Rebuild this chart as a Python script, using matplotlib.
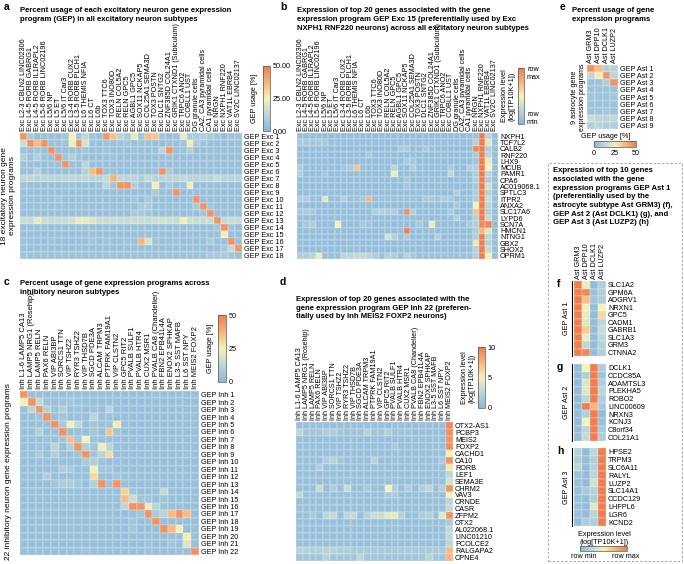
import numpy as np
import matplotlib
matplotlib.use("Agg")
import matplotlib.pyplot as plt
from matplotlib.colors import LinearSegmentedColormap, Normalize
from matplotlib.cm import ScalarMappable
from matplotlib.patches import Rectangle
from matplotlib.lines import Line2D

plt.rcParams['font.family'] = ['Liberation Sans', 'DejaVu Sans']

# ---------------- data ----------------
exc_types = ["Exc L2-3 CBLN2 LINC02306", "Exc L4-5 RORB GABRG1", "Exc L4-5 RORB IL1RAPL2",
             "Exc L5-6 RORB LINC02196", "Exc L5/6 NP", "Exc L5 ET", "Exc L5/6 IT Car3",
             "Exc L3-4 RORB CUX2", "Exc L3-5 RORB PLCH1", "Exc L6 THEMIS NFIA", "Exc L6 CT",
             "Exc L6b", "Exc TOX3 TTC6", "Exc TOX3 INO80D", "Exc RELN COL5A2", "Exc RELN GPC5",
             "Exc AGBL1 GPC5", "Exc SOX11 NCKAP5", "Exc COL25A1 SEMA3D", "Exc TOX3 POSTN",
             "Exc DLC1 SNTG2", "Exc ZNF385D COL24A1", "Exc GRIK1 CTXND1 (Subiculum)",
             "Exc TRPC6 ANO2", "Exc COBLL1 UST", "DG granule cells", "CA2, CA3 pyramidal cells",
             "CA1 pyramidal cells", "Exc NRGN", "Exc NXPH1 RNF220", "Exc VAT1L EBRB4",
             "Exc SV2C LINC02137"]
exc_geps = ["GEP Exc %d" % i for i in range(1, 19)]

# percent usage, GEP Exc x subtype
exc_usage = [
    [45, 8, 4, 5, 4, 4, 6, 25, 6, 14, 5, 4, 44, 35, 12, 8, 22, 6, 36, 34, 6, 4, 5, 22, 8, 8, 10, 8, 6, 4, 5, 5],
    [16, 45, 36, 45, 5, 4, 5, 26, 45, 18, 5, 4, 5, 4, 5, 6, 4, 5, 5, 4, 4, 5, 4, 6, 26, 8, 5, 4, 4, 4, 4, 4],
    [5, 4, 6, 4, 45, 4, 4, 5, 4, 6, 4, 4, 5, 4, 4, 4, 5, 4, 4, 5, 12, 45, 4, 5, 10, 4, 4, 4, 4, 4, 4, 4],
    [10, 5, 10, 5, 4, 45, 6, 10, 5, 4, 4, 4, 4, 5, 4, 4, 4, 4, 4, 4, 4, 5, 4, 4, 4, 4, 4, 4, 4, 4, 4, 4],
    [5, 4, 4, 4, 5, 4, 45, 5, 4, 12, 4, 4, 4, 4, 4, 4, 4, 4, 4, 4, 4, 4, 4, 4, 4, 4, 4, 4, 4, 4, 4, 4],
    [4, 5, 10, 4, 4, 4, 4, 5, 4, 10, 36, 45, 4, 4, 4, 4, 4, 4, 4, 4, 45, 8, 4, 4, 4, 4, 4, 4, 4, 4, 4, 4],
    [13, 14, 12, 13, 12, 12, 13, 14, 12, 13, 12, 12, 14, 38, 13, 12, 12, 10, 14, 12, 12, 12, 12, 14, 12, 12, 12, 12, 15, 12, 12, 12],
    [5, 4, 4, 4, 4, 4, 4, 5, 4, 4, 4, 5, 12, 6, 45, 45, 10, 5, 5, 26, 4, 8, 4, 5, 26, 4, 4, 4, 4, 4, 4, 4],
    [4, 4, 4, 4, 4, 4, 4, 4, 4, 4, 4, 4, 4, 4, 4, 4, 4, 4, 4, 8, 4, 4, 45, 4, 4, 4, 4, 4, 4, 4, 4, 4],
    [4, 4, 4, 4, 4, 6, 4, 4, 4, 4, 4, 4, 4, 4, 4, 4, 6, 4, 8, 4, 4, 4, 4, 4, 4, 45, 4, 4, 4, 4, 4, 4],
    [4, 4, 4, 4, 4, 4, 4, 4, 4, 4, 4, 4, 4, 4, 4, 4, 4, 8, 8, 4, 4, 4, 4, 4, 4, 8, 45, 6, 4, 4, 4, 4],
    [4, 4, 4, 4, 4, 4, 4, 4, 4, 4, 4, 4, 4, 4, 4, 4, 8, 8, 6, 4, 4, 4, 4, 4, 4, 4, 6, 45, 4, 4, 4, 4],
    [16, 15, 22, 16, 15, 15, 15, 18, 22, 22, 20, 16, 15, 16, 15, 15, 16, 16, 15, 16, 17, 16, 15, 26, 16, 15, 16, 15, 45, 15, 16, 15],
    [4, 4, 4, 5, 4, 4, 4, 4, 4, 4, 4, 4, 4, 4, 4, 4, 4, 4, 4, 4, 4, 4, 4, 4, 4, 4, 4, 4, 6, 45, 6, 4],
    [4, 4, 4, 4, 4, 4, 4, 4, 4, 4, 4, 4, 4, 4, 4, 4, 4, 4, 4, 4, 4, 4, 4, 4, 4, 4, 4, 4, 4, 26, 4, 4],
    [5, 4, 4, 4, 5, 4, 4, 4, 4, 4, 6, 4, 5, 4, 4, 5, 4, 38, 18, 5, 4, 4, 5, 4, 4, 4, 4, 8, 4, 4, 45, 4],
    [4, 4, 4, 4, 4, 4, 4, 4, 4, 4, 4, 4, 4, 4, 4, 4, 4, 4, 4, 4, 4, 4, 4, 4, 4, 4, 4, 4, 4, 6, 14, 45],
    [6, 5, 5, 5, 5, 5, 5, 5, 5, 5, 5, 5, 5, 5, 5, 5, 5, 5, 5, 5, 5, 5, 5, 5, 5, 5, 5, 8, 8, 8, 6, 5],
]

exc15_genes = ["NXPH1", "TCF7L2", "CALB2", "RNF220", "LHX9", "MCUB", "PAMR1", "CPA6", "AC019068.1",
               "SPTLC3", "ITPR2", "ANXA2", "SLC17A6", "LYPD6", "SCN7A", "HMCN1", "NTNG1", "GBX2",
               "SHOX2", "OPRM1"]
# expression, % of row max
exc15_expr = [
    [6, 6, 6, 6, 6, 6, 6, 6, 6, 6, 6, 6, 6, 6, 6, 6, 6, 6, 6, 6, 6, 6, 6, 6, 6, 6, 6, 6, 10, 100, 25, 8],
    [15, 15, 14, 15, 14, 8, 8, 8, 8, 8, 8, 8, 8, 8, 8, 8, 8, 8, 8, 8, 8, 8, 8, 8, 8, 8, 8, 8, 20, 100, 40, 8],
    [6, 6, 6, 6, 6, 6, 6, 6, 6, 6, 6, 6, 6, 6, 6, 6, 15, 15, 6, 8, 15, 8, 6, 6, 6, 6, 6, 6, 95, 100, 20, 6],
    [6, 6, 6, 6, 6, 6, 6, 6, 6, 6, 6, 15, 6, 6, 6, 6, 6, 6, 6, 6, 6, 6, 6, 6, 6, 6, 6, 6, 15, 100, 25, 6],
    [6, 6, 6, 6, 6, 6, 6, 6, 6, 6, 6, 6, 6, 6, 6, 6, 6, 15, 12, 6, 6, 6, 6, 6, 6, 6, 6, 6, 12, 100, 45, 6],
    [18, 6, 6, 6, 6, 6, 6, 12, 15, 70, 6, 6, 6, 6, 6, 25, 6, 6, 18, 6, 6, 6, 6, 6, 15, 6, 6, 18, 20, 100, 50, 6],
    [20, 6, 6, 6, 12, 6, 6, 6, 6, 6, 6, 6, 6, 6, 6, 45, 6, 6, 6, 6, 6, 6, 6, 6, 25, 6, 6, 6, 18, 100, 25, 6],
    [6, 6, 6, 6, 6, 6, 6, 6, 6, 6, 6, 6, 6, 6, 6, 6, 6, 15, 6, 6, 6, 6, 6, 6, 6, 6, 6, 6, 20, 100, 20, 6],
    [6, 6, 6, 6, 6, 6, 6, 6, 6, 6, 6, 6, 6, 6, 6, 6, 6, 12, 6, 6, 6, 6, 6, 6, 6, 6, 6, 6, 15, 100, 35, 6],
    [6, 6, 6, 6, 6, 6, 6, 6, 6, 6, 6, 6, 6, 6, 6, 6, 6, 6, 6, 6, 6, 6, 6, 6, 6, 18, 6, 6, 18, 100, 22, 6],
    [18, 18, 8, 8, 40, 8, 8, 18, 8, 8, 15, 75, 8, 8, 8, 8, 8, 8, 8, 8, 15, 15, 12, 18, 15, 8, 8, 8, 20, 100, 30, 6],
    [6, 6, 6, 6, 6, 6, 6, 6, 6, 6, 6, 6, 6, 6, 6, 6, 6, 6, 6, 6, 6, 6, 6, 6, 6, 15, 6, 6, 50, 100, 25, 6],
    [15, 15, 15, 6, 6, 6, 6, 6, 6, 6, 6, 6, 18, 20, 18, 18, 6, 90, 20, 6, 6, 6, 6, 6, 15, 6, 6, 6, 70, 100, 20, 6],
    [6, 6, 6, 6, 6, 6, 6, 6, 6, 6, 6, 6, 6, 6, 6, 6, 6, 6, 6, 6, 6, 6, 6, 6, 6, 20, 6, 6, 20, 100, 30, 6],
    [6, 15, 18, 6, 6, 6, 50, 6, 6, 6, 15, 10, 6, 6, 6, 6, 6, 6, 6, 15, 6, 45, 6, 6, 6, 6, 6, 15, 20, 95, 95, 6],
    [6, 6, 6, 6, 6, 6, 6, 6, 6, 6, 6, 6, 6, 6, 6, 6, 6, 100, 6, 6, 6, 6, 6, 6, 6, 6, 6, 6, 20, 75, 40, 6],
    [6, 6, 6, 6, 6, 6, 6, 6, 6, 6, 6, 6, 6, 6, 35, 20, 6, 15, 6, 6, 6, 6, 20, 6, 6, 6, 6, 6, 20, 100, 25, 6],
    [6, 6, 6, 6, 6, 6, 6, 6, 6, 6, 6, 6, 6, 6, 6, 6, 6, 6, 6, 6, 6, 6, 6, 6, 6, 6, 6, 6, 55, 100, 22, 6],
    [6, 6, 6, 6, 6, 6, 6, 6, 6, 6, 6, 6, 6, 6, 6, 6, 6, 6, 6, 6, 6, 6, 6, 6, 6, 6, 6, 6, 22, 100, 30, 6],
    [18, 18, 22, 45, 8, 8, 8, 25, 25, 28, 28, 25, 18, 8, 22, 18, 8, 22, 15, 8, 8, 8, 8, 8, 8, 8, 8, 8, 20, 100, 50, 8],
]

inh_types = ["Inh L1-6 LAMP5 CA13", "Inh LAMP5 NRG1 (Rosehip)", "Inh LAMP5 RELN", "Inh PAX6 RELN",
             "Inh VIP ABI3BP", "Inh SORCS1 TTN", "Inh VIP TSHZ2", "Inh RYR3 TSHZ2",
             "Inh VIP THSD7B", "Inh SGCD PDE3A", "Inh ALCAM TRPM3", "Inh PTPRK FAM19A1",
             "Inh VIP CLSTN2", "Inh GPC5 RIT2", "Inh PVALB SULF1", "Inh PVALB HTR4",
             "Inh CUX2 MSR1", "Inh PVALB CA8 (Chandelier)", "Inh FBN2 EPB41L4A",
             "Inh ENOX2 SPHKAP", "Inh L3-5 SST MAFB", "Inh L6 SST NPY", "Inh MEIS2 FOXP2"]
inh_geps = ["GEP Inh %d" % i for i in range(1, 23)]
inh_usage = [
    [45, 4, 4, 4, 4, 4, 4, 4, 4, 4, 4, 4, 4, 4, 4, 4, 4, 5, 4, 4, 4, 4, 4],
    [24, 45, 14, 5, 4, 5, 6, 5, 4, 4, 4, 4, 4, 4, 4, 4, 4, 4, 4, 4, 4, 4, 4],
    [4, 12, 45, 10, 5, 10, 4, 5, 4, 5, 4, 12, 4, 4, 4, 4, 4, 4, 4, 4, 4, 4, 4],
    [4, 4, 5, 45, 4, 6, 4, 4, 4, 12, 4, 4, 4, 4, 4, 4, 4, 4, 4, 4, 4, 4, 4],
    [4, 4, 4, 4, 45, 8, 24, 14, 4, 6, 4, 5, 26, 4, 4, 4, 4, 4, 4, 4, 4, 4, 4],
    [4, 4, 10, 4, 5, 45, 4, 4, 4, 6, 4, 34, 6, 4, 4, 4, 4, 4, 4, 4, 4, 4, 4],
    [4, 4, 4, 5, 4, 6, 36, 6, 24, 5, 4, 4, 4, 4, 4, 4, 4, 4, 4, 4, 4, 4, 4],
    [4, 4, 5, 4, 12, 4, 10, 45, 10, 6, 26, 12, 4, 4, 4, 4, 4, 4, 4, 4, 4, 4, 4],
    [4, 4, 8, 4, 10, 4, 4, 5, 45, 6, 12, 30, 4, 4, 4, 4, 4, 4, 4, 4, 4, 5, 4],
    [4, 4, 4, 4, 4, 4, 4, 4, 8, 10, 5, 4, 4, 4, 4, 4, 4, 4, 4, 4, 4, 4, 4],
    [4, 4, 4, 4, 4, 9, 8, 4, 4, 24, 6, 6, 4, 4, 4, 4, 4, 4, 4, 4, 4, 4, 4],
    [4, 4, 4, 10, 4, 4, 4, 4, 4, 30, 4, 4, 6, 4, 4, 4, 4, 4, 4, 4, 4, 4, 4],
    [4, 4, 4, 4, 6, 9, 9, 6, 4, 10, 45, 5, 45, 4, 4, 4, 4, 4, 4, 4, 4, 4, 4],
    [4, 4, 4, 4, 4, 4, 4, 4, 4, 4, 4, 4, 4, 32, 6, 4, 4, 4, 14, 4, 4, 4, 4],
    [4, 4, 4, 4, 4, 4, 4, 4, 4, 4, 4, 4, 4, 36, 15, 6, 6, 4, 6, 4, 4, 4, 4],
    [4, 4, 4, 4, 4, 4, 4, 4, 4, 4, 4, 4, 4, 12, 45, 45, 22, 12, 5, 4, 4, 4, 4],
    [4, 4, 4, 4, 4, 4, 4, 4, 4, 4, 4, 4, 4, 4, 4, 6, 45, 8, 12, 36, 45, 36, 4],
    [4, 4, 4, 4, 4, 4, 4, 4, 4, 4, 4, 4, 4, 4, 6, 4, 5, 45, 4, 4, 4, 4, 4],
    [4, 4, 4, 4, 4, 4, 4, 4, 4, 4, 4, 4, 4, 4, 6, 4, 4, 4, 45, 36, 24, 4, 4],
    [4, 4, 4, 4, 4, 4, 4, 4, 4, 4, 4, 4, 4, 4, 4, 4, 4, 4, 4, 4, 4, 26, 4],
    [4, 4, 4, 4, 4, 4, 4, 4, 4, 4, 4, 4, 4, 4, 4, 4, 5, 4, 4, 6, 4, 20, 4],
    [4, 4, 4, 4, 4, 4, 4, 4, 5, 4, 4, 4, 4, 4, 4, 4, 4, 4, 4, 4, 4, 4, 45],
]

inh22_genes = ["OTX2-AS1", "PCBP3", "MEIS2", "FOXP2", "CACHD1", "CA10", "RORB", "LEF1", "SEMA3E",
               "CHRM2", "VAV3", "CRNDE", "CASR", "ZFPM2", "OTX2", "AL022068.1", "LINC01210",
               "PCOLCE2", "RALGAPA2", "CPNE4"]
# log(TP10K+1)
inh22_expr = [
    [.8, .8, .8, .8, .8, .8, .8, .8, .8, .8, .8, .8, .8, .8, .8, .8, .8, .8, .8, .8, .8, .8, 9.5],
    [2.5, 1.2, 1.2, 1.2, 1.8, 1.8, 1.2, 1.0, 1.0, 1.0, 2.2, 1.2, 1.2, 2.0, 1.0, 1.0, 1.0, .8, .8, .8, .8, .8, 9.2],
    [.8, .8, .8, .8, .8, .8, .8, .8, .8, .8, .8, .8, .8, .8, .8, .8, .8, .8, .8, .8, .8, .8, 9.0],
    [.8, .8, .8, .8, .8, .8, .8, .8, .8, .8, .8, .8, .8, .8, 1.5, .8, .8, .8, .8, .8, .8, .8, 9.3],
    [.8, .8, .8, .8, .8, .8, .8, .8, .8, .8, .8, .8, .8, .8, .8, .8, .8, .8, .8, .8, .8, .8, 5.0],
    [.8, .8, .8, .8, 1.8, 2.2, 1.2, .8, .8, .8, .8, 2.2, .8, .8, .8, .8, .8, .8, .8, .8, .8, 1.5, 9.0],
    [.8, .8, .8, 2.0, .8, .8, .8, .8, .8, .8, .8, .8, .8, .8, .8, .8, .8, .8, .8, .8, .8, .8, 5.5],
    [.8, .8, .8, .8, .8, .8, .8, .8, .8, .8, .8, .8, .8, .8, .8, .8, .8, .8, .8, .8, .8, .8, 2.5],
    [.8, .8, .8, .8, .8, .8, .8, .8, .8, .8, .8, .8, .8, .8, .8, .8, .8, .8, .8, .8, .8, .8, 3.5],
    [.8, .8, .8, 3.0, .8, 1.8, .8, 3.0, .8, .8, 1.5, .8, .8, 5.0, 2.0, .8, 1.8, .8, 2.0, 2.5, .8, 2.0, 9.0],
    [2.5, .8, .8, .8, .8, .8, .8, .8, .8, .8, .8, .8, .8, 1.5, 1.5, .8, .8, .8, .8, .8, .8, .8, 5.0],
    [.8, .8, .8, .8, .8, .8, .8, .8, .8, .8, .8, .8, .8, .8, .8, .8, .8, .8, .8, .8, .8, .8, 2.5],
    [.8, .8, .8, .8, .8, .8, .8, .8, .8, .8, .8, .8, .8, .8, .8, .8, .8, .8, .8, .8, .8, .8, 2.8],
    [.8, .8, 1.5, .8, 2.5, 2.8, .8, 2.5, 2.8, .8, 2.2, 3.0, 3.2, 4.2, 4.2, 2.2, .8, .8, 1.8, 2.0, .8, 4.0, 9.0],
    [.8, .8, .8, .8, .8, .8, .8, .8, .8, .8, .8, .8, .8, .8, .8, .8, .8, .8, .8, .8, .8, .8, 1.5],
    [.8, .8, .8, .8, .8, .8, .8, .8, .8, .8, .8, .8, .8, .8, .8, .8, .8, .8, .8, .8, .8, .8, 2.8],
    [.8, .8, .8, .8, .8, .8, .8, .8, .8, .8, .8, .8, .8, .8, .8, .8, .8, .8, .8, .8, .8, .8, 2.8],
    [.8, .8, .8, .8, .8, .8, .8, .8, .8, .8, .8, .8, .8, .8, .8, .8, .8, .8, .8, .8, .8, .8, 2.5],
    [2.2, 2.2, 2.0, 2.0, 2.2, 2.2, 1.8, 1.8, 1.5, 1.5, 1.5, 1.5, 1.5, 1.5, 1.5, 1.5, 1.5, 1.5, 1.5, 1.5, 1.5, 1.5, 7.2],
    [1.2, 1.2, 1.2, 1.2, 2.2, 1.2, 1.2, 1.2, 1.2, 2.5, 1.2, 1.2, 1.2, 1.2, 1.2, 1.2, 1.2, 1.2, 1.2, 2.2, 1.2, 1.2, 7.5],
]

ast_types = ["Ast GRM3", "Ast DPP10", "Ast DCLK1", "Ast LUZP2"]
ast_geps = ["GEP Ast %d" % i for i in range(1, 10)]
ast_usage = [
    [45, 36, 10, 12],
    [14, 26, 45, 12],
    [5, 5, 10, 45],
    [5, 5, 5, 5],
    [6, 5, 5, 6],
    [5, 5, 5, 5],
    [5, 5, 6, 5],
    [16, 13, 12, 14],
    [10, 12, 10, 10],
]

ast1_genes = ["SLC1A2", "GPM6A", "ADGRV1", "NRXN1", "GPC5", "CADM1", "GABRB1", "SLC1A3", "GRM3", "CTNNA2"]
ast1_expr = [[100, 45, 5, 20], [100, 95, 10, 20], [100, 70, 12, 18], [100, 48, 5, 50], [100, 45, 5, 60],
             [100, 40, 5, 25], [100, 65, 5, 30], [100, 45, 5, 25], [100, 28, 5, 22], [100, 95, 5, 20]]
ast2_genes = ["DCLK1", "CCDC85A", "ADAMTSL3", "PLEKHA5", "ROBO2", "LINC00609", "NRXN3", "KCNJ3", "C8orf34", "COL21A1"]
ast2_expr = [[5, 50, 100, 18], [5, 20, 100, 10], [5, 40, 100, 20], [5, 40, 100, 25], [5, 25, 100, 18],
             [5, 100, 75, 15], [5, 20, 100, 5], [5, 50, 100, 8], [5, 25, 100, 15], [5, 30, 100, 18]]
ast3_genes = ["HPSE2", "TRPM3", "SLC6A11", "RALYL", "LUZP2", "SLC14A1", "CCDC129", "LHFPL6", "LGR6", "KCND2"]
ast3_expr = [[22, 5, 25, 100], [18, 5, 20, 100], [25, 5, 22, 100], [10, 5, 25, 100], [8, 5, 35, 100],
             [8, 15, 22, 100], [8, 5, 20, 100], [8, 5, 40, 100], [8, 5, 25, 100], [5, 18, 18, 100]]

# ---------------- figure ----------------
W, H = 684, 564
fig = plt.figure(figsize=(W / 100, H / 100), dpi=100)
cmap = LinearSegmentedColormap.from_list(
    "bly", ["#8ab6db", "#bad6d9", "#f5f2b8", "#f7b47c", "#f07d50"])
FS = 5.2
TFS = 5.6


def px_axes(x0, y0, x1, y1):
    return fig.add_axes([x0 / W, 1 - y1 / H, (x1 - x0) / W, (y1 - y0) / H])


def ftext(x, y, s, **kw):
    return fig.text(x / W, 1 - y / H, s, **kw)


def heat(ax, mat, vmax, xlabels=None, ylabels=None, xfs=FS):
    m = np.array(mat, float)
    ax.pcolormesh(m, cmap=cmap, vmin=0, vmax=vmax, edgecolors=(1, 1, 1, 0.15), linewidth=0.3)
    ax.set_xlim(0, m.shape[1])
    ax.set_ylim(m.shape[0], 0)
    ax.tick_params(length=0, labelsize=FS, pad=1.5)
    if xlabels:
        ax.set_xticks(np.arange(m.shape[1]) + 0.5)
        ax.set_xticklabels(xlabels, rotation=90, fontsize=xfs)
        ax.xaxis.tick_top()
    else:
        ax.set_xticks([])
    if ylabels:
        ax.set_yticks(np.arange(m.shape[0]) + 0.5)
        ax.set_yticklabels(ylabels)
        ax.yaxis.tick_right()
    else:
        ax.set_yticks([])
    for s in ax.spines.values():
        s.set_visible(False)


def cbar(x0, y0, x1, y1, vmax, orient="vertical", ticks=None, labels=None):
    cax = px_axes(x0, y0, x1, y1)
    cb = fig.colorbar(ScalarMappable(Normalize(0, vmax), cmap), cax=cax, orientation=orient)
    cb.outline.set_linewidth(0.5)
    cb.outline.set_edgecolor("#555555")
    if ticks is None:
        cb.set_ticks([])
    else:
        cb.set_ticks(ticks)
        cb.set_ticklabels(labels)
    cax.tick_params(length=0, labelsize=FS, pad=2)
    return cb


def letter(x, y, s):
    ftext(x, y, s, fontsize=7.5, fontweight="bold", va="top", ha="left")


def title(x, y, s):
    ftext(x, y, s, fontsize=TFS, fontweight="bold", va="top", ha="left", linespacing=1.35)


# panel a
letter(4, 2, "a")
title(20, 7, "Percent usage of each excitatory neuron gene expression\n"
             "program (GEP) in all excitatory neuron subtypes")
heat(px_axes(20, 133, 242, 259), exc_usage, 50, exc_types, exc_geps)
ftext(9, 196, "18 excitatory neuron gene\nexpression programs", rotation=90,
      fontsize=6, ha="center", va="center")
cbar(263, 66, 270, 131, 50, ticks=[0, 25, 50], labels=["0.00", "25.00", "50.00"])
ftext(254, 98, "GEP usage [%]", rotation=90, fontsize=FS, ha="center", va="center")

# panel b
letter(280, 2, "b")
title(297, 7, "Expression of top 20 genes associated with the gene\n"
              "expression program GEP Exc 15 (preferentially used by Exc\n"
              "NXPH1 RNF220 neurons) across all excitatory neuron subtypes")
heat(px_axes(297, 133, 498, 259), exc15_expr, 100, exc_types, exc15_genes)
cbar(518, 68, 524, 124, 100)
ftext(527, 66, "row\nmax", fontsize=FS, ha="left", va="top")
ftext(527, 126, "row\nmin", fontsize=FS, ha="left", va="bottom")
ftext(508, 96, "Expression level\n(log[TP10K+1])", rotation=90, fontsize=FS,
      ha="center", va="center")

# panel c
letter(4, 277, "c")
title(20, 280, "Percent usage of gene expression programs across\n"
               "inhibitory neuron subtypes")
heat(px_axes(20, 391, 199, 555), inh_usage, 50, inh_types, inh_geps, xfs=5.5)
ftext(9, 472, "22 inhibitory neuron gene expression programs", rotation=90,
      fontsize=6, ha="center", va="center")
cbar(218, 315, 226, 382, 50, ticks=[0, 25, 50], labels=["0", "25", "50"])
ftext(210, 348, "GEP usage [%]", rotation=90, fontsize=FS, ha="center", va="center")

# panel d
letter(280, 277, "d")
title(296, 296, "Expression of top 20 genes associated with the\n"
                "gene expression program GEP Inh 22 (preferen-\n"
                "tially used by Inh MEIS2 FOXP2 neurons)")
heat(px_axes(296, 422, 453, 561), inh22_expr, 10, inh_types, inh22_genes)
cbar(478, 347, 485, 408, 10, ticks=[0, 5, 10], labels=["0", "5", "10"])
ftext(468, 378, "Expression level\n(log[TP10K+1])", rotation=90, fontsize=FS,
      ha="center", va="center")

# panel e
letter(560, 2, "e")
title(572, 7, "Percent usage of gene\nexpression programs")
heat(px_axes(587, 65, 618, 129), ast_usage, 50, ast_types, ast_geps)
ftext(579, 97, "9 astrocyte gene\nexpression programs", rotation=90, fontsize=FS,
      ha="center", va="center")
ftext(606, 136, "GEP usage [%]", fontsize=FS, ha="center", va="center")
cbar(594, 141, 636, 147, 50, orient="horizontal", ticks=[0, 25, 50], labels=["0", "25", "50"])

# dashed box with panels f-h
fig.add_artist(Rectangle((548 / W, 1 - 561 / H), 134 / W, 398 / H, transform=fig.transFigure,
                         fill=False, ls=(0, (3, 2)), lw=0.6, ec="#9a9a9a"))
title(553, 167, "Expression of top 10 genes\n"
                "associated with the gene\n"
                "expression programs GEP Ast 1\n"
                "(preferentially used by the\n"
                "astrocyte subtype Ast GRM3) (f),\n"
                "GEP Ast 2 (Ast DCLK1) (g), and\n"
                "GEP Ast 3 (Ast LUZP2) (h)")
blocks = [("f", "GEP Ast 1", ast1_expr, ast1_genes, 281, 356),
          ("g", "GEP Ast 2", ast2_expr, ast2_genes, 364, 441),
          ("h", "GEP Ast 3", ast3_expr, ast3_genes, 448, 526)]
for i, (lt, gep, mat, genes, y0, y1) in enumerate(blocks):
    ax = px_axes(574, y0, 606, y1)
    heat(ax, mat, 100, ast_types if i == 0 else None, genes)
    letter(557, y0 - 2, lt)
    fig.add_artist(Line2D([572 / W, 572 / W], [1 - y0 / H, 1 - y1 / H],
                          transform=fig.transFigure, color="k", lw=0.8))
    ftext(566, (y0 + y1) / 2, gep, rotation=90, fontsize=FS, ha="center", va="center")
ftext(604, 538, "Expression level\n(log[TP10K+1])", fontsize=FS, ha="center", va="center")
cbar(580, 546, 627, 551, 100, orient="horizontal")
ftext(584, 556, "row min", fontsize=FS, ha="center", va="center")
ftext(626, 556, "row max", fontsize=FS, ha="center", va="center")

fig.savefig("out.png", dpi=100)
